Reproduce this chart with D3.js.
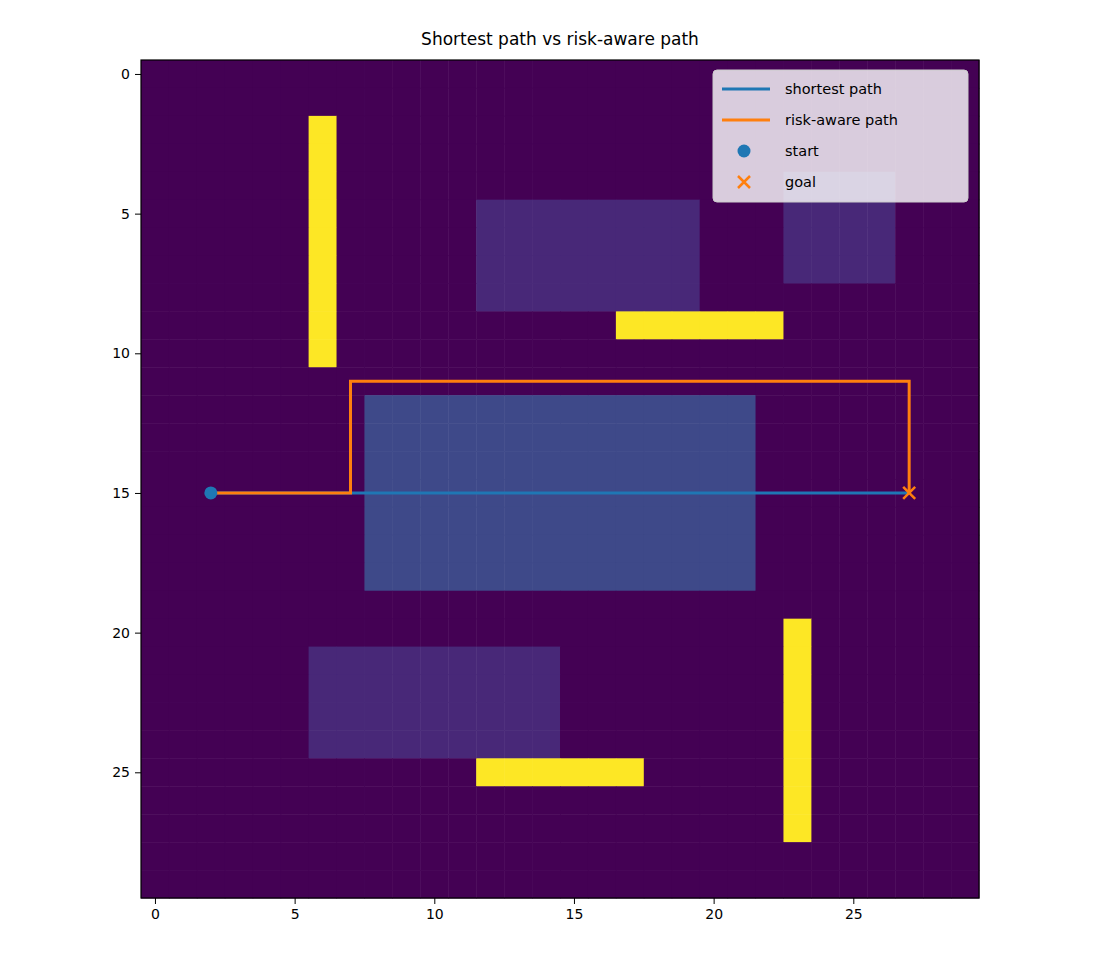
<!DOCTYPE html>
<html><head><meta charset="utf-8">
<script src="https://cdn.jsdelivr.net/npm/d3@7"></script>
<style>body{margin:0;background:#fff}text{font-family:"DejaVu Sans",sans-serif}</style>
</head><body><svg id="chart" width="1120" height="960"></svg>
<script>
const N = 30
// zones: [col0, col1, row0, row1] (inclusive cells)
const obstacles = [[6,6,2,10],[17,22,9,9],[12,17,25,25],[23,23,20,27]]
const lowRisk = [[12,19,5,8],[23,26,4,7],[6,14,21,24]]
const highRisk = [[8,21,12,18]]
const shortestPath = [[2,15],[27,15]]
const riskPath = [[2,15],[7,15],[7,11],[27,11],[27,15]]
const start = [2,15]
const goal = [27,15]
const ticks = [0,5,10,15,20,25]

const grid = d3.range(N).map(() => d3.range(N).map(() => 0))
function fill(list, v) {
  list.forEach(([c0,c1,r0,r1]) => {
    for (let r = r0; r <= r1; r++) for (let c = c0; c <= c1; c++) grid[r][c] = v
  })
}
fill(lowRisk, 0.11)
fill(highRisk, 0.22)
fill(obstacles, 1)

const svg = d3.select("#chart")
const mLeft = 141, mTop = 60, size = 838
const x = d3.scaleLinear().domain([-0.5, N - 0.5]).range([mLeft, mLeft + size])
const y = d3.scaleLinear().domain([-0.5, N - 0.5]).range([mTop, mTop + size])
const color = d3.scaleSequential(d3.interpolateViridis).domain([0, 1])

const cells = grid.flatMap((row, r) => row.map((v, c) => ({r, c, v})))
svg.append("g").selectAll("rect").data(cells).join("rect")
  .attr("x", d => x(d.c - 0.5)).attr("y", d => y(d.r - 0.5))
  .attr("width", x(1) - x(0) + 0.5).attr("height", y(1) - y(0) + 0.5)
  .attr("fill", d => color(d.v))

const line = d3.line().x(d => x(d[0])).y(d => y(d[1]))
svg.append("path").attr("d", line(shortestPath)).attr("fill", "none")
  .attr("stroke", "#1f77b4").attr("stroke-width", 3)
svg.append("path").attr("d", line(riskPath)).attr("fill", "none")
  .attr("stroke", "#ff7f0e").attr("stroke-width", 3)
svg.append("circle").attr("cx", x(start[0])).attr("cy", y(start[1])).attr("r", 6.5).attr("fill", "#1f77b4")
function cross(g, cx, cy, s) {
  g.append("path").attr("d", `M${cx-s},${cy-s}L${cx+s},${cy+s}M${cx-s},${cy+s}L${cx+s},${cy-s}`)
    .attr("stroke", "#ff7f0e").attr("stroke-width", 2.5)
}
cross(svg, x(goal[0]), y(goal[1]), 6)

svg.append("rect").attr("x", mLeft).attr("y", mTop).attr("width", size).attr("height", size)
  .attr("fill", "none").attr("stroke", "#000").attr("stroke-width", 1.2)

svg.append("g").attr("transform", `translate(0,${mTop + size})`)
  .call(d3.axisBottom(x).tickValues(ticks).tickSize(6).tickPadding(5))
  .call(g => g.select(".domain").remove())
  .selectAll("text").attr("font-size", 14).attr("fill", "#000")
svg.append("g").attr("transform", `translate(${mLeft},0)`)
  .call(d3.axisLeft(y).tickValues(ticks).tickSize(6).tickPadding(5))
  .call(g => g.select(".domain").remove())
  .selectAll("text").attr("font-size", 14).attr("fill", "#000")

svg.append("text").attr("x", mLeft + size / 2).attr("y", 45).attr("text-anchor", "middle")
  .attr("font-size", 17).text("Shortest path vs risk-aware path")

// legend
const lg = svg.append("g").attr("transform", "translate(713,70)")
lg.append("rect").attr("width", 255).attr("height", 132).attr("rx", 4)
  .attr("fill", "rgba(255,255,255,0.8)").attr("stroke", "#ccc")
const items = ["shortest path", "risk-aware path", "start", "goal"]
items.forEach((t, i) => {
  const yy = 19 + i * 31
  if (i === 0 || i === 1) lg.append("line").attr("x1", 9).attr("x2", 57).attr("y1", yy).attr("y2", yy)
    .attr("stroke", i ? "#ff7f0e" : "#1f77b4").attr("stroke-width", 3)
  if (i === 2) lg.append("circle").attr("cx", 31).attr("cy", yy).attr("r", 6.5).attr("fill", "#1f77b4")
  if (i === 3) cross(lg, 31, yy, 6)
  lg.append("text").attr("x", 72).attr("y", yy + 5).attr("font-size", 14.5).text(t)
})
</script></body></html>
